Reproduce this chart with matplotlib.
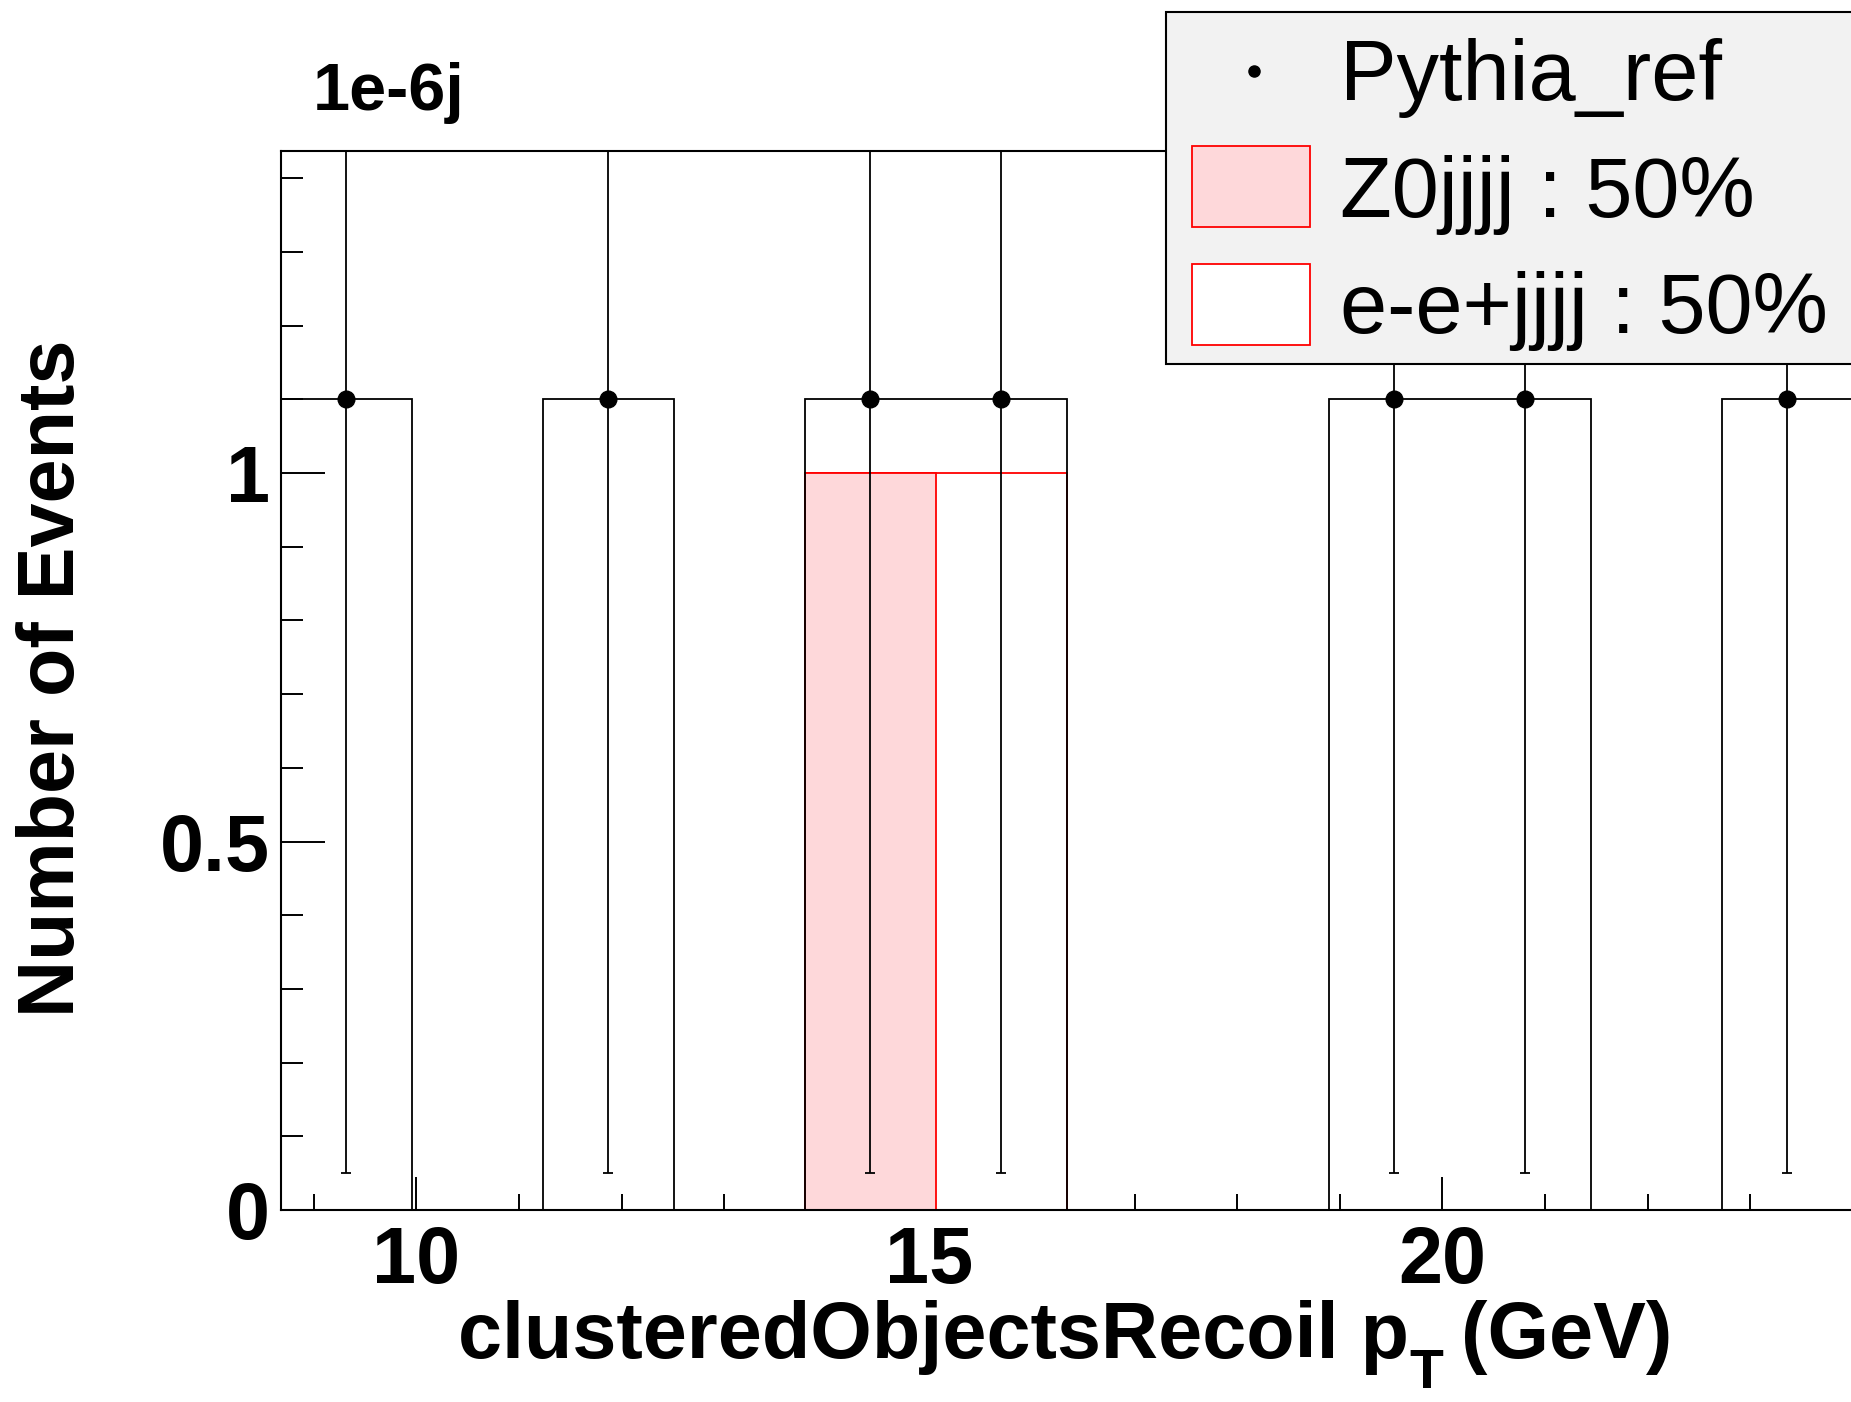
import numpy as np
import matplotlib.pyplot as plt
from matplotlib.patches import Rectangle
from matplotlib.lines import Line2D
from matplotlib.ticker import MultipleLocator

plt.rcParams['font.family'] = ['Liberation Sans', 'DejaVu Sans']

# histogram binning (12 bins)
x_lo, x_hi, n_bins = 8.68, 24.0, 12

pythia_ref = [1.1, 0, 1.1, 0, 1.1, 1.1, 0, 0, 1.1, 1.1, 0, 1.1]
ref_err_down = [1.05, 0, 1.05, 0, 1.05, 1.05, 0, 0, 1.05, 1.05, 0, 1.05]
ref_err_up = [0.5, 0, 0.5, 0, 0.5, 0.5, 0, 0, 0.5, 0.5, 0, 0.5]
z0jjjj = [0, 0, 0, 0, 1, 0, 0, 0, 0, 0, 0, 0]
eejjjj = [0, 0, 0, 0, 0, 1, 0, 0, 0, 0, 0, 0]

labels = ['Pythia_ref', 'Z0jjjj : 50%', 'e-e+jjjj : 50%']

x_ticks = [10, 15, 20]
y_ticks = [0, 0.5, 1]
y_ticklabels = ['0', '0.5', '1']

pink = '#fed8da'
red = '#ff0000'

W, H = 1851, 1402
fig = plt.figure(figsize=(W / 100, H / 100), dpi=100)
ax = fig.add_axes([281 / W, 1 - 1210 / H, (1856 - 281) / W, (1210 - 151) / H])

edges = np.linspace(x_lo, x_hi, n_bins + 1)
centers = 0.5 * (edges[:-1] + edges[1:])
ref = np.array(pythia_ref)
stack_total = np.array(z0jjjj) + np.array(eejjjj)

# stack: total drawn first (white), Z0 on top (pink)
ax.stairs(stack_total, edges, baseline=0, fill=True, facecolor='white',
          edgecolor=red, linewidth=1.3, zorder=2)
ax.stairs(z0jjjj, edges, baseline=0, fill=True, facecolor=pink,
          edgecolor=red, linewidth=1.3, zorder=3)

# reference histogram outline + points
ax.stairs(ref, edges, baseline=0, fill=False, color='black', linewidth=1.3, zorder=4)
m = ref > 0
ax.errorbar(centers[m], ref[m],
            yerr=[np.array(ref_err_down)[m], np.array(ref_err_up)[m]],
            fmt='o', color='black', ms=12, elinewidth=1.3,
            capsize=3.6, capthick=1.3, zorder=5)

ax.set_xlim(x_lo, x_lo + (1856 - 281) / 102.6)
ax.set_ylim(0, 1.437)

ax.set_xticks(x_ticks, labels=[str(t) for t in x_ticks], fontsize=57, fontweight='bold')
ax.set_yticks(y_ticks, labels=y_ticklabels, fontsize=57, fontweight='bold')
ax.xaxis.set_minor_locator(MultipleLocator(1))
ax.yaxis.set_minor_locator(MultipleLocator(0.1))
ax.tick_params(axis='x', which='major', direction='in', length=24, width=1.4, pad=11)
ax.tick_params(axis='x', which='minor', direction='in', length=11.5, width=1.4)
ax.tick_params(axis='y', which='major', direction='in', length=32, width=1.4, pad=8)
ax.tick_params(axis='y', which='minor', direction='in', length=16, width=1.4)
for s in ax.spines.values():
    s.set_linewidth(1.5)
    s.set_zorder(6)

# x title, ROOT-style subscript placed by hand
renderer = fig.canvas.get_renderer()
xt_y = 1 - 1358 / H
t1 = fig.text(458 / W, xt_y, 'clusteredObjectsRecoil p', ha='left', va='baseline',
              fontsize=57, fontweight='bold')
x1 = t1.get_window_extent(renderer).x1
t2 = fig.text(x1 / W, 1 - 1388 / H, 'T', ha='left', va='baseline',
              fontsize=40, fontweight='bold')
x2 = t2.get_window_extent(renderer).x1
fig.text((x2 - 4) / W, xt_y, ' (GeV)', ha='left', va='baseline',
         fontsize=57, fontweight='bold')

fig.text(74 / W, 1 - 678 / H, 'Number of Events', rotation=90, rotation_mode='anchor',
         ha='center', va='baseline', fontsize=57, fontweight='bold')
fig.text(313 / W, 1 - 110 / H, '1e-6j', ha='left', va='baseline',
         fontsize=48, fontweight='bold')

# legend box (ROOT style)
fig.add_artist(Rectangle((1166 / W, 1 - 364 / H), (1870 - 1166) / W, (364 - 12) / H,
                         transform=fig.transFigure, facecolor='#f2f2f2',
                         edgecolor='black', linewidth=1.5, zorder=10))
fig.add_artist(Line2D([1254 / W], [1 - 71 / H], transform=fig.transFigure, marker='o',
                      color='black', ms=8, linestyle='none', zorder=11))
fig.add_artist(Rectangle((1192 / W, 1 - 227 / H), 118 / W, 81 / H, transform=fig.transFigure,
                         facecolor=pink, edgecolor=red, linewidth=1.3, zorder=11))
fig.add_artist(Rectangle((1192 / W, 1 - 345 / H), 118 / W, 81 / H, transform=fig.transFigure,
                         facecolor='white', edgecolor=red, linewidth=1.3, zorder=11))
for lab, yb in zip(labels, [100, 217, 333]):
    fig.text(1340 / W, 1 - yb / H, lab, ha='left', va='baseline', fontsize=61, zorder=12)

fig.savefig('out.png', dpi=100)
